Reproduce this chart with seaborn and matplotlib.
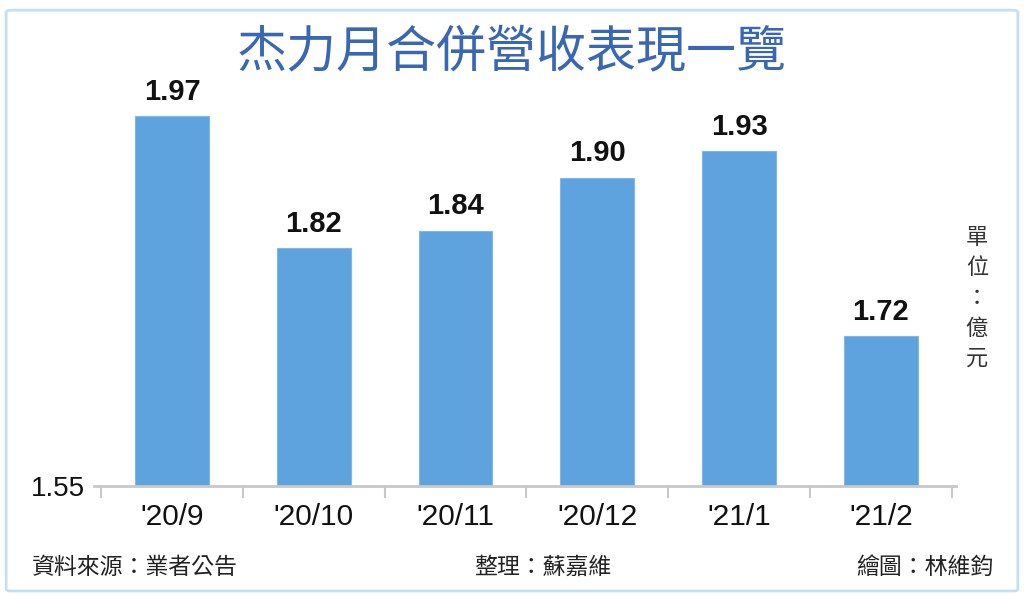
import numpy as np
import pandas as pd
import matplotlib
matplotlib.use("Agg")
import matplotlib.pyplot as plt
import seaborn as sns
from matplotlib.patches import FancyBboxPatch

# chart data
months = ["'20/9", "'20/10", "'20/11", "'20/12", "'21/1", "'21/2"]
revenue = [1.97, 1.82, 1.84, 1.90, 1.93, 1.72]
y_base = 1.55

title = "杰力月合併營收表現一覽"
unit_text = "單位：億元"
source_text = "資料來源：業者公告"
editor_text = "整理：蘇嘉維"
artist_text = "繪圖：林維鈞"

df = pd.DataFrame({"month": months, "revenue": revenue})

sns.set_style("white")
plt.rcParams['font.family'] = ['Noto Sans CJK TC', 'DejaVu Sans']
num_font = ['Liberation Sans', 'DejaVu Sans']

fig = plt.figure(figsize=(10.24, 6.0), dpi=100)
ax = fig.add_axes([0.0918, 0.19, 0.8418, 0.6767])

bar_color = "#5FA3DE"
sns.barplot(data=df, x="month", y="revenue", color=bar_color, width=0.52,
            saturation=1, ax=ax, edgecolor="#7fb8e8", linewidth=0.8)

ax.set_ylim(y_base, 2.011)
ax.set_xlim(-0.55, len(months) - 0.47)

# value labels above bars
for i, v in enumerate(revenue):
    ax.text(i, v + 0.012, f"{v:.2f}", ha="center", va="bottom",
            fontsize=21, fontweight="bold", color="#111111", family=num_font)

# axes styling
for s in ["top", "right", "left"]:
    ax.spines[s].set_visible(False)
ax.spines["bottom"].set_color("#c8c8c8")
ax.spines["bottom"].set_linewidth(2)

ax.set_xticks(range(len(months)))
ax.set_xticklabels(months, fontsize=21.5, color="#111111", family=num_font)
ax.tick_params(axis="x", which="major", bottom=True, length=0, pad=12)
ax.set_xticks(np.arange(-0.5, len(months)), minor=True)
ax.tick_params(axis="x", which="minor", bottom=True, length=8.5, width=1.5,
               color="#c8c8c8", direction="out")

ax.set_yticks([y_base])
ax.set_yticklabels([f"{y_base:.2f}"], fontsize=20, color="#111111", family=num_font)
ax.tick_params(axis="y", left=True, length=0, pad=6.5)

ax.set_xlabel("")
ax.set_ylabel("")

# title
fig.text(0.5, 0.912, title, ha="center", va="center", fontsize=36,
         color="#3a67b3", fontweight="medium")

# unit label, vertical
fig.text(0.954, 0.503, "\n".join(unit_text), ha="center", va="center",
         fontsize=16, color="#333333", linespacing=1.4, fontweight="light")

# footer
fig.text(0.031, 0.055, source_text, ha="left", va="center", fontsize=16.5,
         color="#222222", fontweight="light")
fig.text(0.463, 0.055, editor_text, ha="left", va="center", fontsize=16.5,
         color="#222222", fontweight="light")
fig.text(0.970, 0.055, artist_text, ha="right", va="center", fontsize=16.5,
         color="#222222", fontweight="light")

# light blue frame
frame = FancyBboxPatch((0.006, 0.015), 0.988, 0.968, boxstyle="round,pad=0,rounding_size=0.004",
                       transform=fig.transFigure, fill=False, edgecolor="#c4def5", linewidth=2)
fig.patches.append(frame)

fig.savefig("out.png", dpi=100)
